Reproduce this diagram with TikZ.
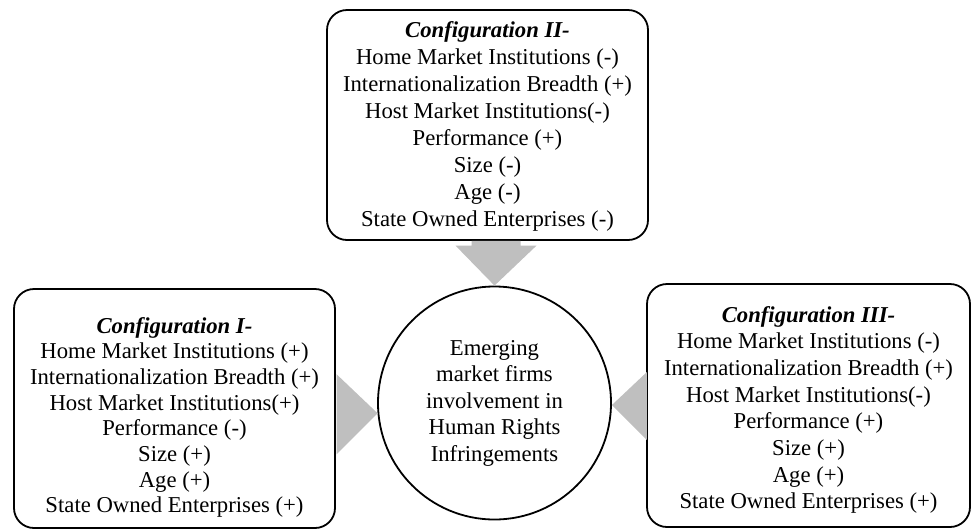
\documentclass[tikz,border=0pt]{standalone}
\usepackage{fontspec}
\setmainfont{Liberation Serif}
\usetikzlibrary{calc}
\definecolor{arrowgray}{RGB}{191,191,191}
\newcommand{\firstln}{\rule{0pt}{18pt}}
\newcommand{\lastln}{\rule[-18pt]{0pt}{18pt}}
\begin{document}
\begin{tikzpicture}[x=1pt,y=-1pt,
  cfgbox/.style={draw=black, line width=1.8pt, rounded corners=20pt, inner sep=0pt},
  cfgtext/.style={align=center, inner sep=0pt},
  hub/.style={draw=black, circle, line width=1.8pt, inner sep=0pt, minimum size=233pt},
  arrowfill/.style={fill=arrowgray}]
\useasboundingbox (0,0) rectangle (972,531);

% boxes
\node[cfgbox, minimum width=321pt, minimum height=230pt] (tbox) at (487.5,125) {};
\node[cfgbox, minimum width=321pt, minimum height=239pt] (lbox) at (174.5,408.5) {};
\node[cfgbox, minimum width=323pt, minimum height=243pt] (rbox) at (808.5,405.5) {};
\node[hub] (circ) at (494.5,403) {};

% texts
\node[cfgtext, font=\fontsize{22.7}{27}\selectfont] (ttext) at (487.5,132)
 {\firstln\textbf{\textit{Configuration II-}}\\ Home Market Institutions (-)\\ Internationalization Breadth (+)\\ Host Market Institutions(-)\\ Performance (+)\\ Size (-)\\ Age (-)\\ State Owned Enterprises (-)\lastln};
\node[cfgtext, font=\fontsize{22.7}{25.7}\selectfont] (ltext) at (174.5,423)
 {\firstln\textbf{\textit{Configuration I-}}\\ Home Market Institutions (+)\\ Internationalization Breadth (+)\\ Host Market Institutions(+)\\ Performance (-)\\ Size (+)\\ Age (+)\\ State Owned Enterprises (+)\lastln};
\node[cfgtext, font=\fontsize{22.7}{26.7}\selectfont] (rtext) at (808.5,415.5)
 {\firstln\textbf{\textit{Configuration III-}}\\ Home Market Institutions (-)\\ Internationalization Breadth (+)\\ Host Market Institutions(-)\\ Performance (+)\\ Size (+)\\ Age (+)\\ State Owned Enterprises (+)\lastln};
\node[cfgtext, font=\fontsize{22.7}{26.5}\selectfont] (ctext) at (494.5,408)
 {\firstln Emerging\\ market firms\\ involvement in\\ Human Rights\\ Infringements\lastln};

% arrows
\coordinate (ttip) at (circ.north);
\fill[arrowfill] let \p1=(ttip), \p2=(tbox.south) in
  ({\x1-23pt},{\y2}) -- ({\x1-23pt},{\y1+40pt}) -- ({\x1-39pt},{\y1+40pt}) -- (ttip)
  -- ({\x1+42pt},{\y1+40pt}) -- ({\x1+26pt},{\y1+40pt}) -- ({\x1+26pt},{\y2}) -- cycle;
\coordinate (ltip) at (circ.185);
\fill[arrowfill] (ltip) -- ($(ltip)+(-41,-39)$) -- ($(ltip)+(-41,41)$) -- cycle;
\coordinate (rtip) at (circ.-1);
\fill[arrowfill] (rtip) -- ($(rtip)+(35,-33)$) -- ($(rtip)+(35,35)$) -- cycle;
\end{tikzpicture}
\end{document}
